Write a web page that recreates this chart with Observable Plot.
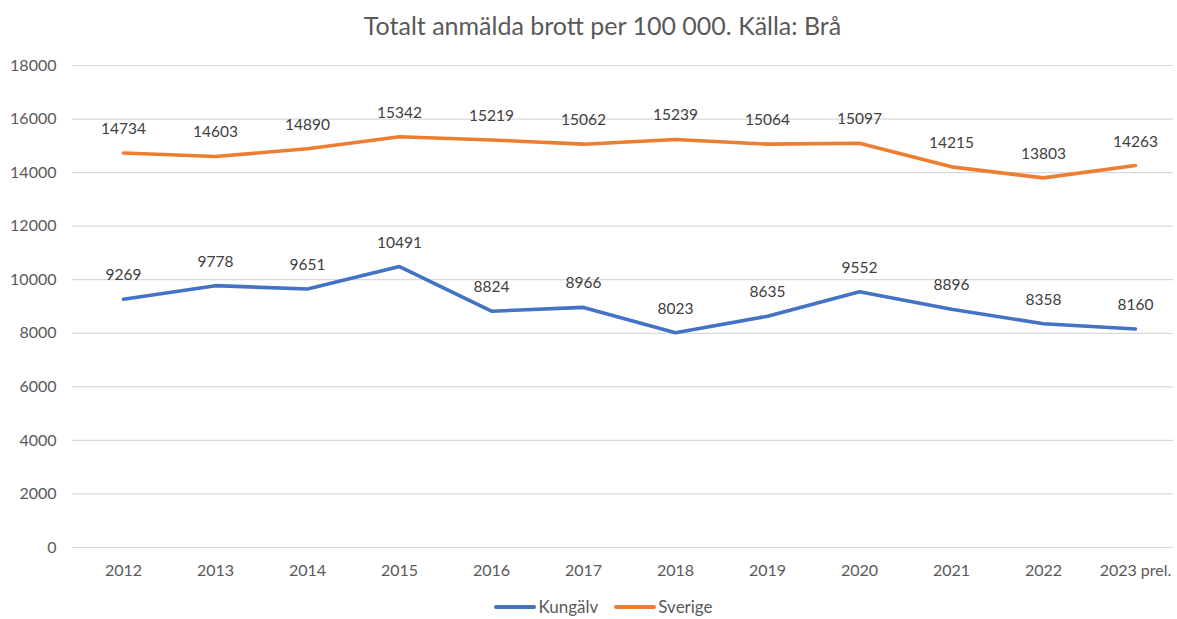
<!DOCTYPE html>
<html>
<head>
<meta charset="utf-8">
<script src="https://cdn.jsdelivr.net/npm/d3@7"></script>
<script src="https://cdn.jsdelivr.net/npm/@observablehq/plot@0.6"></script>
<style>
  html, body { margin: 0; padding: 0; background: #fff; }
  body { width: 1177px; height: 619px; overflow: hidden; font-family: Lato, "Open Sans", sans-serif; }
  #title { height: 45px; text-align: center; font-size: 25px; color: #595959; line-height: 50px; padding-left: 28px; }
  #legend { display: flex; justify-content: center; gap: 16px; font-size: 17px; color: #595959; margin-top: 6px; padding-left: 30px; }
  .item { display: flex; align-items: center; gap: 2px; }
  .sw { width: 42px; height: 4px; border-radius: 2px; }
</style>
</head>
<body>
<div id="title">Totalt anmälda brott per 100 000. Källa: Brå</div>
<div id="chart"></div>
<div id="legend"></div>
<script>
const years = ["2012","2013","2014","2015","2016","2017","2018","2019","2020","2021","2022","2023 prel."];
const kungalv = [9269, 9778, 9651, 10491, 8824, 8966, 8023, 8635, 9552, 8896, 8358, 8160];
const sverige = [14734, 14603, 14890, 15342, 15219, 15062, 15239, 15064, 15097, 14215, 13803, 14263];
const seriesNames = ["Kungälv", "Sverige"];
const seriesColors = ["#4472C4", "#ED7D31"];
const yTicks = [0, 2000, 4000, 6000, 8000, 10000, 12000, 14000, 16000, 18000];

const data = [];
years.forEach((y, i) => {
  data.push({year: y, value: kungalv[i], series: seriesNames[0]});
  data.push({year: y, value: sverige[i], series: seriesNames[1]});
});

const chart = Plot.plot({
  width: 1177,
  height: 545,
  marginLeft: 72,
  marginRight: 4,
  marginTop: 20,
  marginBottom: 43,
  style: {fontFamily: "Lato, 'Open Sans', sans-serif", fontSize: "16px", color: "#595959", background: "#fff"},
  x: {type: "point", domain: years, range: [118, 1140], padding: 0, label: null},
  y: {domain: [0, 18000], ticks: yTicks, label: null},
  color: {domain: seriesNames, range: seriesColors},
  marks: [
    Plot.gridY(yTicks, {stroke: "#d9d9d9", strokeOpacity: 1, strokeWidth: 1.2}),
    Plot.axisY({ticks: yTicks, tickSize: 0, tickPadding: 16, fill: "#595959", fontSize: 16, tickFormat: d => String(d), label: null}),
    Plot.axisX({tickSize: 0, tickPadding: 17, fill: "#595959", fontSize: 16, label: null}),
    Plot.line(data, {x: "year", y: "value", z: "series", stroke: "series", strokeWidth: 3.6, strokeLinejoin: "round", strokeLinecap: "round"}),
    Plot.text(data, {x: "year", y: "value", text: d => String(d.value), dy: -24, fill: "#404040", fontSize: 15.5})
  ]
});
document.getElementById("chart").appendChild(chart);

const legend = document.getElementById("legend");
seriesNames.forEach((n, i) => {
  const it = document.createElement("div");
  it.className = "item";
  it.innerHTML = `<span class="sw" style="background:${seriesColors[i]}"></span><span>${n}</span>`;
  legend.appendChild(it);
});
</script>
</body>
</html>
